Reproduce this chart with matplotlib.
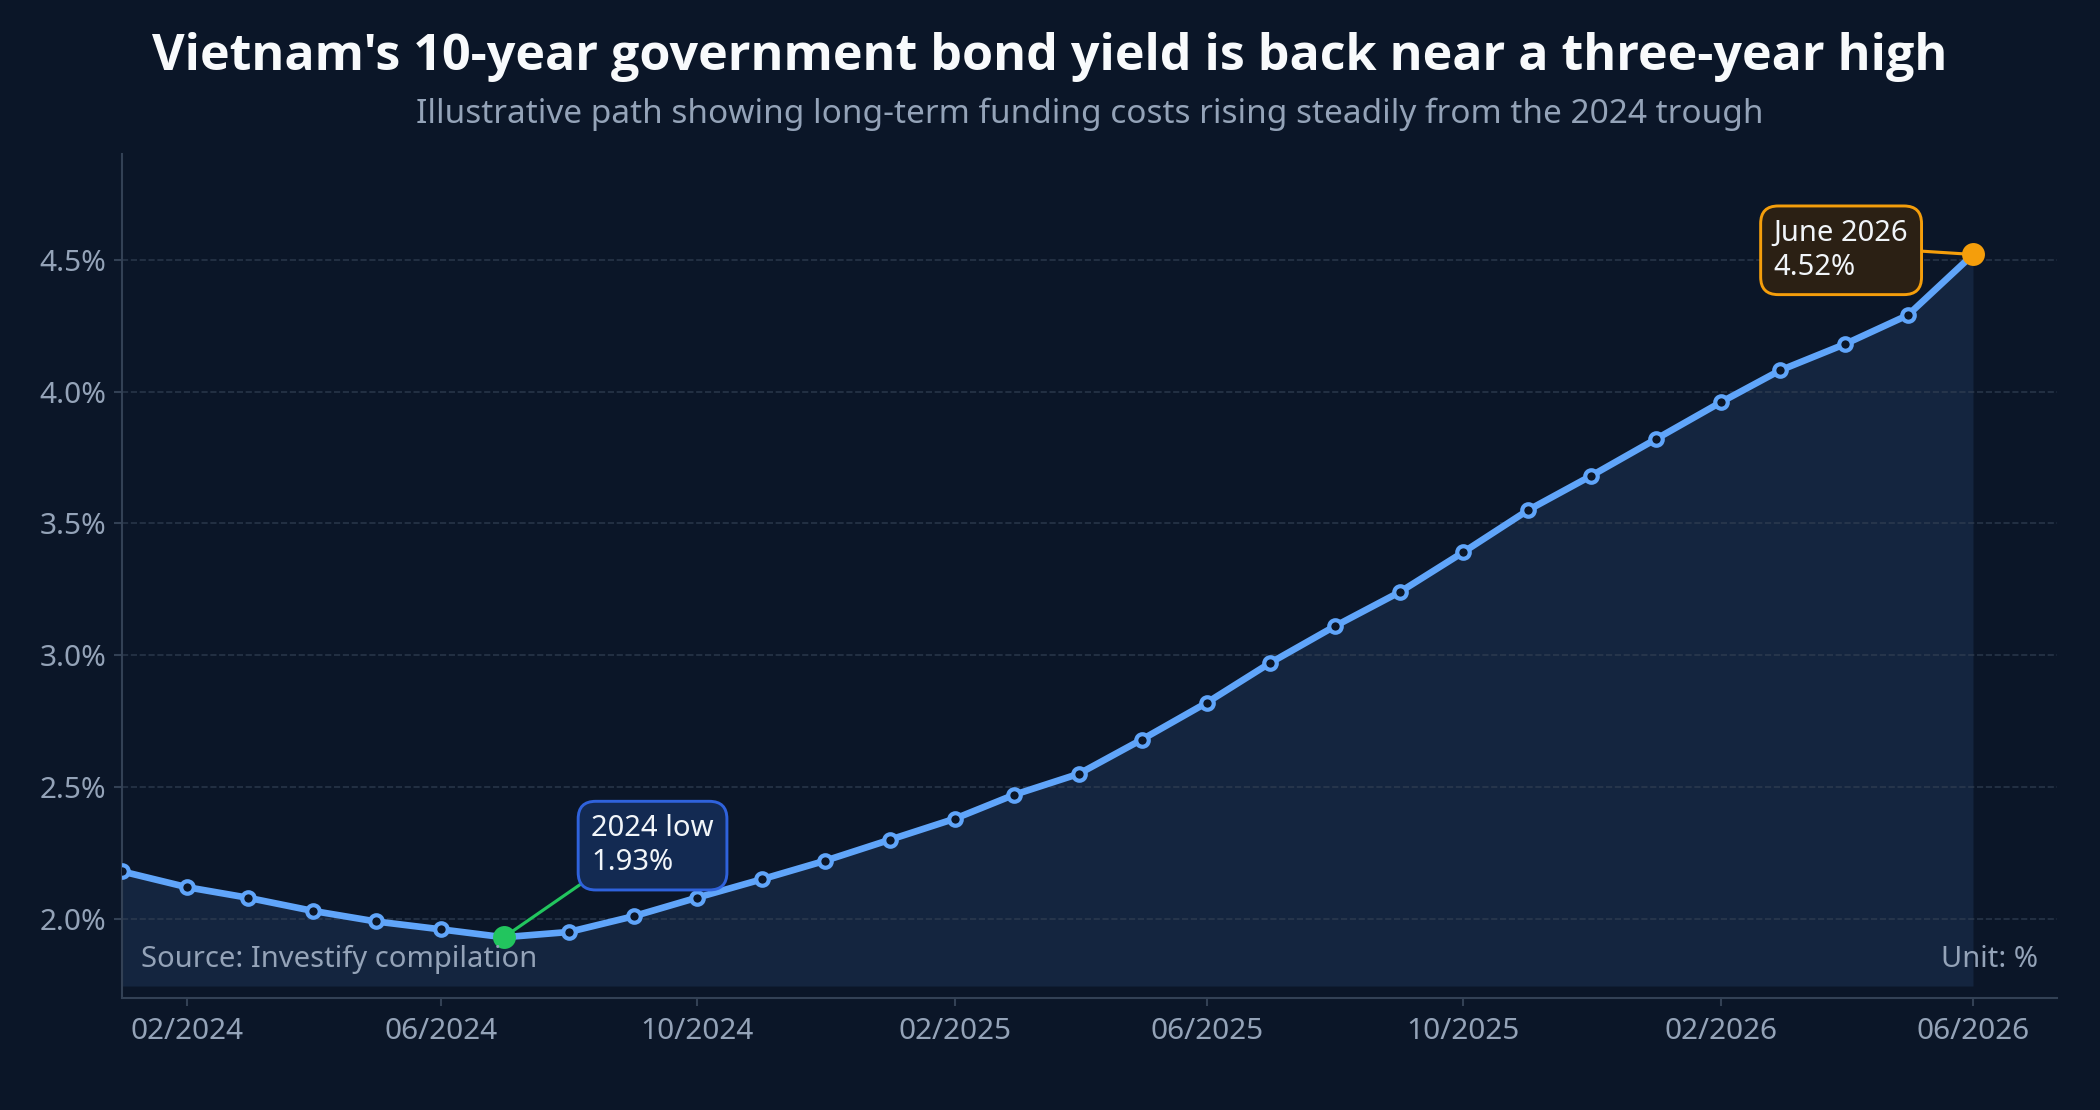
import matplotlib
matplotlib.use("Agg")
import matplotlib.pyplot as plt
import matplotlib.dates as mdates
import numpy as np
import pandas as pd

# ── data ──────────────────────────────────────────────────────────────────────
months = pd.date_range("2024-01-01", "2026-06-01", freq="MS")
yields = [
    2.18, 2.12, 2.08, 2.03, 1.99, 1.96, 1.93, 1.95, 2.01, 2.08, 2.15, 2.22,
    2.30, 2.38, 2.47, 2.55, 2.68, 2.82, 2.97, 3.11, 3.24, 3.39, 3.55, 3.68,
    3.82, 3.96, 4.08, 4.18, 4.29, 4.52,
]
y_ticks = [2.0, 2.5, 3.0, 3.5, 4.0, 4.5]

TITLE = "Vietnam's 10-year government bond yield is back near a three-year high"
SUBTITLE = "Illustrative path showing long-term funding costs rising steadily from the 2024 trough"
SOURCE = "Source: Investify compilation"
UNIT = "Unit: %"

BG = "#0b1628"
LINE = "#60a5fa"
MUTED = "#94a3b8"
SPINE = "#334155"
GREEN = "#22c55e"
ORANGE = "#f59e0b"

plt.rcParams["font.family"] = ["Noto Sans", "DejaVu Sans"]

fig = plt.figure(figsize=(14, 7.4), dpi=150)
fig.patch.set_facecolor(BG)
ax = fig.add_axes([0.058, 0.101, 0.9215, 0.760])
ax.set_facecolor(BG)

y = np.array(yields)
ax.fill_between(months, y, 1.745, color=LINE, alpha=0.11, linewidth=0, zorder=1)
ax.plot(months, y, color=LINE, linewidth=3.2, marker="o", markersize=6,
        markerfacecolor=BG, markeredgecolor=LINE, markeredgewidth=2, zorder=3)

i_low = int(np.argmin(y))
i_last = len(y) - 1
ax.plot(months[i_low], y[i_low], "o", color=GREEN, markersize=10, zorder=5)
ax.plot(months[i_last], y[i_last], "o", color=ORANGE, markersize=10, zorder=5)

ax.annotate(
    f"2024 low\n{y[i_low]:.2f}%", xy=(months[i_low], y[i_low]),
    xytext=(42, 29), textcoords="offset points", ha="left", va="bottom",
    multialignment="left", fontsize=14, color="#f1f5f9", linespacing=1.2,
    bbox=dict(boxstyle="round,pad=0.45,rounding_size=0.6", facecolor="#132a52",
              edgecolor="#2f62dc", linewidth=1.4),
    arrowprops=dict(arrowstyle="-", color=GREEN, lw=1.5, shrinkA=0, shrinkB=4,
                    relpos=(0, 0)),
    zorder=6,
)
ax.annotate(
    f"June 2026\n{y[i_last]:.2f}%", xy=(months[i_last], y[i_last]),
    xytext=(-31, 2), textcoords="offset points", ha="right", va="center",
    multialignment="left", fontsize=14, color="#f1f5f9", linespacing=1.2,
    bbox=dict(boxstyle="round,pad=0.45,rounding_size=0.6", facecolor="#2b2014",
              edgecolor=ORANGE, linewidth=1.4),
    arrowprops=dict(arrowstyle="-", color=ORANGE, lw=1.5, shrinkA=0, shrinkB=4,
                    relpos=(1, 0.5)),
    zorder=6,
)

# ── axes styling ──────────────────────────────────────────────────────────────
ax.set_xlim(months[0], months[-1] + pd.Timedelta(days=40))
ax.set_ylim(1.70, 4.90)
ax.set_yticks(y_ticks)
ax.set_yticklabels([f"{v:.1f}%" for v in y_ticks])
ax.xaxis.set_major_locator(mdates.MonthLocator(bymonth=[2, 6, 10]))
ax.xaxis.set_major_formatter(mdates.DateFormatter("%m/%Y"))

ax.grid(axis="y", linestyle="--", color=SPINE, linewidth=0.8, alpha=0.7, zorder=0)
ax.grid(axis="x", visible=False)
for side in ("top", "right"):
    ax.spines[side].set_visible(False)
for side in ("left", "bottom"):
    ax.spines[side].set_color(SPINE)
    ax.spines[side].set_linewidth(1.0)
ax.tick_params(colors=SPINE, labelcolor=MUTED, labelsize=14.3, length=4, width=1)
ax.tick_params(axis="x", pad=5)

ax.text(0.01, 0.045, SOURCE, transform=ax.transAxes, ha="left", va="center",
        fontsize=14, color=MUTED, zorder=7)
ax.text(0.99, 0.045, UNIT, transform=ax.transAxes, ha="right", va="center",
        fontsize=14, color=MUTED, zorder=7)

fig.text(0.5, 0.949, TITLE, ha="center", va="center", fontsize=24.1,
         fontweight="bold", color="#f8fafc", family=["Open Sans", "DejaVu Sans"])
ax.set_title(SUBTITLE, fontsize=16, color=MUTED, pad=15)

fig.savefig("out.png", dpi=150, facecolor=fig.get_facecolor())
